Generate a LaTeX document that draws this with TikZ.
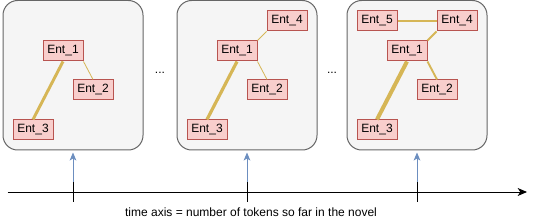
\documentclass[tikz,border=0pt]{standalone}
\usepackage{fontspec}
\setmainfont{Liberation Sans}
\usetikzlibrary{arrows.meta}
\definecolor{boxfill}{HTML}{F5F5F5}
\definecolor{boxline}{HTML}{666666}
\definecolor{entfill}{HTML}{F8CECC}
\definecolor{entline}{HTML}{B85450}
\definecolor{edgecol}{HTML}{D6B656}
\definecolor{bluecol}{HTML}{6C8EBF}
\begin{document}
\begin{tikzpicture}[x=0.75pt,y=-0.75pt,
  frame/.style={draw=boxline,fill=boxfill,rounded corners=11pt,line width=0.75pt},
  ent/.style={draw=entline,fill=entfill,line width=0.75pt,minimum width=30pt,minimum height=15pt,inner sep=0pt,font=\fontsize{9}{10}\selectfont},
  rel/.style={draw=edgecol},
  tick/.style={draw=black,line width=0.75pt},
  up/.style={draw=bluecol,line width=0.75pt,-{Stealth[length=6pt,width=5pt,inset=1.5pt]}},
  txt/.style={font=\fontsize{9}{10}\selectfont,inner sep=0pt}]
\useasboundingbox (0,0) rectangle (536,221);
% frames
\draw[frame] (3,0.5) rectangle (143,150);
\draw[frame] (177,0.5) rectangle (317,150);
\draw[frame] (347,0.5) rectangle (487,150);
% box 1
\node[ent] (a1) at (63,51) {Ent\_1};
\node[ent] (a2) at (93,90) {Ent\_2};
\node[ent] (a3) at (33,130) {Ent\_3};
\draw[rel,line width=2.2pt] (a1.south) -- (a3.north);
\draw[rel,line width=0.6pt] (a1.south east) -- (a2.north);
% box 2
\node[ent] (b1) at (237,51) {Ent\_1};
\node[ent] (b2) at (267,90) {Ent\_2};
\node[ent] (b3) at (207,130) {Ent\_3};
\node[ent] (b4) at (287,21) {Ent\_4};
\draw[rel,line width=2.4pt] (b1.south) -- (b3.north);
\draw[rel,line width=0.6pt] (b1.south east) -- (b2.north);
\draw[rel,line width=0.6pt] (b1.north east) -- (b4.south west);
% box 3
\node[ent] (c1) at (407,51) {Ent\_1};
\node[ent] (c2) at (437,90) {Ent\_2};
\node[ent] (c3) at (377,130) {Ent\_3};
\node[ent] (c4) at (457,21) {Ent\_4};
\node[ent] (c5) at (377,21) {Ent\_5};
\draw[rel,line width=3pt] (c1.south) -- (c3.north);
\draw[rel,line width=1.4pt] (c1.south east) -- (c2.north);
\draw[rel,line width=1.4pt] (c1.north east) -- (c4.south west);
\draw[rel,line width=1pt] (c5.east) -- (c4.west);
% dots
\node[txt] (d1) at (160,73) {...};
\node[txt] (d2) at (332,73) {...};
% axis
\coordinate (ax0) at (7.5,192);
\coordinate (ax1) at (527,192);
\draw[line width=0.75pt,-{Stealth[length=7pt,width=6pt,inset=2pt]}] (ax0) -- (ax1);
\foreach \x/\n in {73/1,247/2,417/3}{
  \coordinate (t\n a) at (\x,182);
  \coordinate (t\n b) at (\x,202);
  \coordinate (u\n) at (\x,152.5);
  \draw[tick] (t\n a) -- (t\n b);
  \draw[up] (t\n a) -- (u\n);
}
\node[txt] (lab) at (251,212.5) {time axis = number of tokens so far in the novel};
\end{tikzpicture}
\end{document}
